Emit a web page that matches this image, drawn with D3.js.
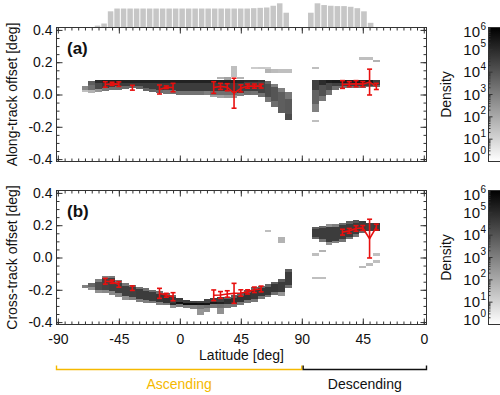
<!DOCTYPE html>
<html>
<head>
<meta charset="utf-8">
<script src="https://cdn.jsdelivr.net/npm/d3@7"></script>
<style>
  body { margin: 0; background: #fff; }
  svg { font-family: "Liberation Sans", Arial, Helvetica, sans-serif; }
</style>
</head>
<body>
<svg id="chart" width="500" height="395"></svg>
<script>
// ---- data ----------------------------------------------------------------
// density cells: [latitude, [[offsetLow, offsetHigh, log10(density)], ...]]
const alongAsc = [
  [-70, [[0.015, 0.03, 1.5], [0.03, 0.055, 2.8]]],
  [-65, [[0.01, 0.03, 1.8], [0.03, 0.06, 3.4], [0.06, 0.085, 3.8]]],
  [-60, [[0.015, 0.035, 2.5], [0.035, 0.07, 4.3], [0.07, 0.087, 5]]],
  [-55, [[0.02, 0.04, 3.2], [0.04, 0.072, 4.6], [0.072, 0.087, 5.2]]],
  [-50, [[0.025, 0.045, 3.4], [0.045, 0.072, 4.6], [0.072, 0.087, 5.2]]],
  [-45, [[0.03, 0.05, 3.4], [0.05, 0.072, 4.6], [0.072, 0.087, 5.2]]],
  [-40, [[0.035, 0.05, 3.5], [0.05, 0.072, 4.6], [0.072, 0.087, 5.2]]],
  [-35, [[0.04, 0.055, 3.6], [0.055, 0.072, 4.6], [0.072, 0.087, 5.2]]],
  [-30, [[0.035, 0.05, 3.6], [0.05, 0.072, 4.6], [0.072, 0.087, 5.2]]],
  [-25, [[0.02, 0.04, 3.6], [0.04, 0.072, 4.6], [0.072, 0.087, 5.2]]],
  [-20, [[0.015, 0.035, 3.6], [0.035, 0.072, 4.6], [0.072, 0.087, 5.2]]],
  [-15, [[0.01, 0.03, 3.5], [0.03, 0.072, 4.6], [0.072, 0.087, 5.2]]],
  [-10, [[0.005, 0.025, 3.3], [0.025, 0.072, 4.6], [0.072, 0.087, 5.2]]],
  [-5, [[0.005, 0.025, 3.3], [0.025, 0.072, 4.6], [0.072, 0.087, 5.2]]],
  [0, [[0.0, 0.02, 3.3], [0.02, 0.072, 4.6], [0.072, 0.087, 5.2]]],
  [5, [[0.0, 0.02, 3.3], [0.02, 0.072, 4.6], [0.072, 0.087, 5.2]]],
  [10, [[0.0, 0.02, 3.3], [0.02, 0.072, 4.6], [0.072, 0.087, 5.2]]],
  [15, [[0.0, 0.02, 3.3], [0.02, 0.072, 4.6], [0.072, 0.087, 5.2]]],
  [20, [[-0.005, 0.02, 3.0], [0.02, 0.072, 4.6], [0.072, 0.087, 5.2]]],
  [25, [[-0.015, 0.0, 2.2], [0.0, 0.02, 3.4], [0.02, 0.072, 4.6], [0.072, 0.087, 5.2]]],
  [30, [[-0.02, 0.0, 2.2], [0.0, 0.02, 3.4], [0.02, 0.072, 4.6], [0.072, 0.087, 5.2], [0.095, 0.11, 1.8]]],
  [35, [[-0.02, 0.0, 2.4], [0.0, 0.02, 3.4], [0.02, 0.072, 4.6], [0.072, 0.087, 5.2], [0.09, 0.11, 2.2]]],
  [40, [[-0.02, 0.0, 2.4], [0.0, 0.02, 3.4], [0.02, 0.072, 4.6], [0.072, 0.087, 5.2], [0.11, 0.175, 1.5]]],
  [45, [[-0.01, 0.01, 3.0], [0.01, 0.072, 4.5], [0.072, 0.087, 5.1], [0.095, 0.11, 1.8]]],
  [50, [[0.0, 0.02, 3.4], [0.02, 0.075, 4.5], [0.075, 0.087, 5]]],
  [55, [[0.0, 0.02, 3.3], [0.02, 0.075, 4.5], [0.075, 0.087, 5], [0.155, 0.17, 1.2]]],
  [60, [[-0.015, 0.01, 3.3], [0.01, 0.075, 4.4], [0.075, 0.087, 4.8], [0.155, 0.172, 1.3]]],
  [65, [[-0.045, -0.015, 3.2], [-0.015, 0.065, 4.2], [0.065, 0.085, 3.6], [0.135, 0.155, 1.8], [0.155, 0.17, 1.2]]],
  [70, [[-0.075, -0.04, 3.4], [-0.04, 0.045, 4.0], [0.045, 0.065, 3.0], [0.135, 0.155, 1.6]]],
  [75, [[-0.115, -0.08, 3.8], [-0.08, 0.015, 3.8], [0.015, 0.04, 3.0], [0.135, 0.155, 1.5]]],
  [80, [[-0.158, -0.12, 4.2], [-0.12, -0.03, 3.9], [-0.03, 0.017, 3.2], [0.135, 0.155, 1.5]]]
];
const alongDesc = [
  [80, [[-0.106, -0.06, 3.0], [-0.06, 0.03, 3.7], [0.03, 0.087, 4.5], [0.155, 0.17, 1.5], [-0.17, -0.155, 1.5]]],
  [75, [[-0.043, -0.01, 3.2], [-0.01, 0.06, 4.1], [0.06, 0.087, 5.0]]],
  [70, [[0.0, 0.025, 3.3], [0.025, 0.07, 4.3], [0.07, 0.087, 5.3]]],
  [65, [[0.03, 0.05, 3.4], [0.05, 0.072, 4.5], [0.072, 0.087, 5.4]]],
  [60, [[0.04, 0.055, 3.3], [0.055, 0.072, 4.5], [0.072, 0.087, 5.4]]],
  [55, [[0.04, 0.055, 3.3], [0.055, 0.072, 4.5], [0.072, 0.087, 5.4]]],
  [50, [[0.04, 0.055, 3.3], [0.055, 0.072, 4.5], [0.072, 0.087, 5.4]]],
  [45, [[0.04, 0.055, 3.3], [0.055, 0.072, 4.5], [0.072, 0.087, 5.4], [0.215, 0.232, 1.5]]],
  [40, [[0.045, 0.055, 3.3], [0.055, 0.072, 4.5], [0.072, 0.087, 5.4], [0.215, 0.232, 1.5]]],
  [35, [[0.045, 0.06, 3.5], [0.06, 0.087, 4.6], [0.2, 0.212, 1.8]]]
];
const crossAsc = [
  [-70, [[-0.19, -0.17, 3.0]]],
  [-65, [[-0.2, -0.18, 2.6], [-0.18, -0.155, 3.6]]],
  [-60, [[-0.218, -0.2, 2.6], [-0.2, -0.15, 4.2], [-0.15, -0.135, 3.0]]],
  [-55, [[-0.222, -0.2, 2.8], [-0.2, -0.13, 4.4], [-0.13, -0.114, 3.0]]],
  [-50, [[-0.232, -0.21, 2.8], [-0.21, -0.13, 4.5], [-0.13, -0.114, 3.2]]],
  [-45, [[-0.243, -0.22, 2.8], [-0.22, -0.155, 4.5], [-0.155, -0.14, 3.2]]],
  [-40, [[-0.263, -0.24, 2.6], [-0.24, -0.175, 4.5], [-0.175, -0.16, 3.2]]],
  [-35, [[-0.263, -0.245, 3.0], [-0.245, -0.185, 4.5], [-0.185, -0.17, 3.3]]],
  [-30, [[-0.274, -0.255, 3.0], [-0.255, -0.195, 4.6], [-0.195, -0.181, 3.3]]],
  [-25, [[-0.284, -0.265, 3.0], [-0.265, -0.205, 4.6], [-0.205, -0.19, 3.4]]],
  [-20, [[-0.284, -0.27, 3.2], [-0.27, -0.215, 4.6], [-0.215, -0.2, 3.4]]],
  [-15, [[-0.295, -0.275, 3.0], [-0.275, -0.225, 4.7], [-0.225, -0.21, 3.4]]],
  [-10, [[-0.295, -0.28, 3.2], [-0.28, -0.235, 4.8], [-0.235, -0.222, 3.5]]],
  [-5, [[-0.315, -0.295, 2.6], [-0.295, -0.28, 5.0], [-0.28, -0.245, 4.6], [-0.245, -0.232, 3.5]]],
  [0, [[-0.304, -0.29, 3.2], [-0.29, -0.278, 5.6], [-0.278, -0.253, 4.6]]],
  [5, [[-0.315, -0.292, 3.0], [-0.292, -0.28, 5.7], [-0.28, -0.263, 4.6]]],
  [10, [[-0.32, -0.295, 3.0], [-0.295, -0.282, 5.7], [-0.282, -0.268, 4.5]]],
  [15, [[-0.356, -0.32, 2.5], [-0.32, -0.295, 3.2], [-0.295, -0.282, 5.6], [-0.282, -0.268, 4.4]]],
  [20, [[-0.34, -0.31, 2.6], [-0.31, -0.293, 3.4], [-0.293, -0.28, 5.5], [-0.28, -0.26, 4.4]]],
  [25, [[-0.315, -0.29, 3.2], [-0.29, -0.278, 5.4], [-0.278, -0.253, 4.5]]],
  [30, [[-0.35, -0.31, 2.6], [-0.31, -0.288, 3.4], [-0.288, -0.275, 5.2], [-0.275, -0.247, 4.5]]],
  [35, [[-0.315, -0.29, 3.2], [-0.29, -0.26, 4.9], [-0.26, -0.243, 3.8]]],
  [40, [[-0.304, -0.285, 3.2], [-0.285, -0.25, 4.8], [-0.25, -0.232, 3.8]]],
  [45, [[-0.295, -0.275, 3.2], [-0.275, -0.24, 4.8], [-0.24, -0.222, 3.8]]],
  [50, [[-0.284, -0.265, 3.2], [-0.265, -0.22, 4.8], [-0.22, -0.201, 3.8]]],
  [55, [[-0.274, -0.255, 3.2], [-0.255, -0.2, 4.7], [-0.2, -0.185, 3.6]]],
  [60, [[-0.26, -0.24, 3.2], [-0.24, -0.19, 4.7], [-0.19, -0.175, 3.6]]],
  [65, [[-0.247, -0.23, 3.2], [-0.23, -0.18, 4.7], [-0.18, -0.164, 3.6], [0.156, 0.17, 1.5]]],
  [70, [[-0.232, -0.215, 3.4], [-0.215, -0.165, 4.7], [-0.165, -0.15, 3.8]]],
  [75, [[-0.24, -0.215, 2.5], [-0.215, -0.15, 4.6], [-0.15, -0.135, 3.8], [0.092, 0.129, 1.8]]],
  [80, [[-0.19, -0.17, 3.4], [-0.17, -0.09, 4.6], [-0.09, -0.073, 3.8]]]
];
const crossDesc = [
  [80, [[0.112, 0.13, 3.6], [0.13, 0.175, 4.6], [0.175, 0.187, 3.8], [0.011, 0.026, 1.5], [-0.134, -0.119, 1.5]]],
  [75, [[0.098, 0.115, 3.2], [0.115, 0.18, 4.6], [0.18, 0.195, 3.6], [0.031, 0.046, 1.8], [-0.134, -0.119, 1.5]]],
  [70, [[0.077, 0.098, 2.6], [0.098, 0.19, 4.6], [0.19, 0.207, 2.6]]],
  [65, [[0.088, 0.105, 3.0], [0.105, 0.19, 4.6], [0.19, 0.207, 3.0]]],
  [60, [[0.098, 0.115, 3.3], [0.115, 0.2, 4.6], [0.2, 0.215, 3.5]]],
  [55, [[0.112, 0.13, 3.3], [0.13, 0.21, 4.6], [0.21, 0.227, 3.8]]],
  [50, [[0.129, 0.145, 3.3], [0.145, 0.215, 4.6], [0.215, 0.232, 4.0]]],
  [45, [[0.15, 0.165, 3.5], [0.165, 0.227, 4.6], [-0.066, -0.052, 1.6]]],
  [40, [[0.166, 0.215, 4.5], [-0.05, -0.036, 1.6]]],
  [35, [[0.166, 0.211, 4.6], [0.011, 0.026, 1.5], [-0.032, -0.016, 1.5]]]
];

// red means with error bars: groups of [latitude, mean, std]
const alongAscMean = [
  [[-55, 0.062, 0.017], [-50, 0.066, 0.01], [-45, 0.064, 0.014]],
  [[-35, 0.042, 0.015]],
  [[-15, 0.031, 0.028], [-10, 0.045, 0.008], [-5, 0.043, 0.026]],
  [[25, 0.043, 0.036], [30, 0.05, 0.019], [35, 0.045, 0.022], [40, 0.008, 0.093],
   [45, 0.038, 0.022], [50, 0.052, 0.013], [55, 0.052, 0.013], [60, 0.052, 0.012]]
];
const alongDescMean = [
  [[60, 0.062, 0.024], [55, 0.064, 0.016], [50, 0.067, 0.019], [45, 0.064, 0.016], [40, 0.077, 0.08], [35, 0.05, 0.019]]
];
const crossAscMean = [
  [[-55, -0.147, 0.018], [-50, -0.15, 0.01], [-45, -0.167, 0.017]],
  [[-35, -0.19, 0.014]],
  [[-15, -0.222, 0.031], [-10, -0.234, 0.012], [-5, -0.243, 0.025]],
  [[25, -0.234, 0.033], [30, -0.232, 0.021], [35, -0.226, 0.02], [40, -0.222, 0.062],
   [45, -0.22, 0.02], [50, -0.213, 0.013], [55, -0.2, 0.017], [60, -0.195, 0.018]]
];
const crossDescMean = [
  [[60, 0.157, 0.018], [55, 0.165, 0.015], [50, 0.18, 0.017], [45, 0.183, 0.015], [40, 0.117, 0.12], [35, 0.188, 0.018]]
];

// profile counts above panel (a)
const histAscStart = -63.1, histAscWidth = 4.8;
const histAscCounts = [4, 10, 45, 53, 53, 53, 53, 53, 53, 53, 53, 53, 53, 53, 53, 53, 53, 53, 53, 53, 53, 53, 53, 53, 54, 55, 56, 61, 68, 41];
const histDescStart = 85.8, histDescWidth = 4.9;
const histDescCounts = [41, 68, 63, 61, 60, 60, 58, 54, 45, 12];

const xTicks = [-90, -45, 0, 45, 90, 135, 180];
const yTicks = [-0.4, -0.2, 0.0, 0.2, 0.4];
const densityExp = [0, 1, 2, 3, 4, 5, 6];
const passes = [
  { name: "Ascending", from: -91, to: 90, color: "#f5b900" },
  { name: "Descending", from: 91, to: 182, color: "#111" }
];

// ---- layout ---------------------------------------------------------------
const svg = d3.select("#chart");
const x = d3.scaleLinear().domain([-91, 182]).range([56.5, 426.5]);
const cellHalf = 2.5;
const gray = d3.scaleLinear().domain([0, 6]).range(["#ffffff", "#000000"]);
const red = "#e8100f";
const axisColor = "#333";

const toU = (lat, side) => side === "asc" ? lat : 180 - lat;

const panels = [
  { top: 27.5, bottom: 161.5, asc: alongAsc, desc: alongDesc, ascMean: alongAscMean, descMean: alongDescMean,
    title: "Along-track offset [deg]", tag: "(a)", labels: false },
  { top: 190.5, bottom: 324.5, asc: crossAsc, desc: crossDesc, ascMean: crossAscMean, descMean: crossDescMean,
    title: "Cross-track offset [deg]", tag: "(b)", labels: true }
];

// histogram
const hy = d3.scaleLinear().domain([0, 77.5]).range([27, 0]);
const histBars = [];
histAscCounts.forEach((c, i) => histBars.push({ u0: histAscStart + i * histAscWidth, u1: histAscStart + (i + 1) * histAscWidth, c }));
histDescCounts.forEach((c, i) => histBars.push({ u0: 180 - (histDescStart - i * histDescWidth), u1: 180 - (histDescStart - (i + 1) * histDescWidth), c }));
svg.append("g").selectAll("rect").data(histBars).join("rect")
  .attr("x", d => x(d.u0) + 0.5)
  .attr("width", d => x(d.u1) - x(d.u0) - 1)
  .attr("y", d => hy(d.c))
  .attr("height", d => hy(0) - hy(d.c))
  .attr("fill", "#c6c6c6");

panels.forEach((p, pi) => {
  const y = d3.scaleLinear().domain([-0.415, 0.415]).range([p.bottom, p.top]);
  const g = svg.append("g");

  const cells = [];
  [["asc", p.asc], ["desc", p.desc]].forEach(([side, cols]) => {
    cols.forEach(([lat, segs]) => segs.forEach(s => cells.push({ u: toU(lat, side), v0: s[0], v1: s[1], lvl: s[2] })));
  });
  g.append("g").selectAll("rect").data(cells).join("rect")
    .attr("x", d => x(d.u - cellHalf))
    .attr("width", d => x(d.u + cellHalf) - x(d.u - cellHalf))
    .attr("y", d => y(d.v1))
    .attr("height", d => y(d.v0) - y(d.v1))
    .attr("fill", d => gray(d.lvl))
    .attr("shape-rendering", "crispEdges");

  // means and error bars
  const groups = [];
  p.ascMean.forEach(gr => groups.push(gr.map(([lat, m, e]) => ({ u: toU(lat, "asc"), m, e }))));
  p.descMean.forEach(gr => groups.push(gr.map(([lat, m, e]) => ({ u: toU(lat, "desc"), m, e }))));
  const line = d3.line().x(d => x(d.u)).y(d => y(d.m));
  const rg = g.append("g").attr("stroke", red).attr("stroke-width", 1.6).attr("fill", "none");
  rg.selectAll("path").data(groups).join("path").attr("d", line);
  const pts = groups.flat();
  rg.selectAll("line.eb").data(pts).join("line").attr("class", "eb")
    .attr("x1", d => x(d.u)).attr("x2", d => x(d.u))
    .attr("y1", d => y(d.m - d.e)).attr("y2", d => y(d.m + d.e));
  rg.selectAll("line.capT").data(pts).join("line").attr("class", "capT")
    .attr("x1", d => x(d.u) - 2.5).attr("x2", d => x(d.u) + 2.5)
    .attr("y1", d => y(d.m + d.e)).attr("y2", d => y(d.m + d.e));
  rg.selectAll("line.capB").data(pts).join("line").attr("class", "capB")
    .attr("x1", d => x(d.u) - 2.5).attr("x2", d => x(d.u) + 2.5)
    .attr("y1", d => y(d.m - d.e)).attr("y2", d => y(d.m - d.e));

  // axes
  const minorY = d3.range(-0.4, 0.401, 0.05);
  const minorX = d3.range(-90, 181, 5);
  const style = sel => {
    sel.select(".domain").remove();
    sel.selectAll("line").attr("stroke", axisColor);
    sel.selectAll("text").attr("fill", "#111").style("font-size", "14px").style("font-family", null);
  };
  g.append("g").attr("transform", `translate(${x.range()[0]},0)`)
    .call(d3.axisLeft(y).tickValues(yTicks).tickSize(-6).tickPadding(4).tickFormat(d => d.toFixed(1))).call(style);
  g.append("g").attr("transform", `translate(${x.range()[0]},0)`)
    .call(d3.axisLeft(y).tickValues(minorY).tickSize(-3).tickFormat("")).call(style);
  g.append("g").attr("transform", `translate(${x.range()[1]},0)`)
    .call(d3.axisRight(y).tickValues(yTicks).tickSize(-6).tickFormat("")).call(style);
  g.append("g").attr("transform", `translate(${x.range()[1]},0)`)
    .call(d3.axisRight(y).tickValues(minorY).tickSize(-3).tickFormat("")).call(style);
  g.append("g").attr("transform", `translate(0,${p.top})`)
    .call(d3.axisTop(x).tickValues(xTicks).tickSize(-6).tickFormat("")).call(style);
  g.append("g").attr("transform", `translate(0,${p.top})`)
    .call(d3.axisTop(x).tickValues(minorX).tickSize(-3).tickFormat("")).call(style);
  g.append("g").attr("transform", `translate(0,${p.bottom})`)
    .call(d3.axisBottom(x).tickValues(xTicks).tickSize(-6).tickPadding(10)
      .tickFormat(d => p.labels ? String(d <= 90 ? d : 180 - d) : "")).call(style);
  g.append("g").attr("transform", `translate(0,${p.bottom})`)
    .call(d3.axisBottom(x).tickValues(minorX).tickSize(-3).tickFormat("")).call(style);

  g.append("rect")
    .attr("x", x.range()[0]).attr("y", p.top)
    .attr("width", x.range()[1] - x.range()[0]).attr("height", p.bottom - p.top)
    .attr("fill", "none").attr("stroke", axisColor);

  g.append("text").attr("x", 67).attr("y", p.top + 26)
    .style("font-size", "17px").style("font-weight", "bold").attr("fill", "#111").text(p.tag);

  g.append("text")
    .attr("transform", `translate(17,${(p.top + p.bottom) / 2}) rotate(-90)`)
    .attr("text-anchor", "middle").style("font-size", "14px").attr("fill", "#111").text(p.title);

  // colour bar
  const cb = d3.scaleLinear().domain([0, 6]).range([p.bottom, p.top]);
  const gradId = "grad" + pi;
  const grad = svg.append("defs").append("linearGradient").attr("id", gradId)
    .attr("x1", 0).attr("y1", 1).attr("x2", 0).attr("y2", 0);
  grad.append("stop").attr("offset", "0%").attr("stop-color", gray(0));
  grad.append("stop").attr("offset", "100%").attr("stop-color", gray(6));
  const cbx = 488.5;
  g.append("rect").attr("x", cbx).attr("y", p.top).attr("width", 14).attr("height", p.bottom - p.top)
    .attr("fill", `url(#${gradId})`).attr("stroke", axisColor);
  const logTicks = d3.scaleLog().domain([1, 1e6]).ticks().map(v => Math.log10(v));
  g.append("g").selectAll("line").data(logTicks).join("line")
    .attr("x1", cbx).attr("x2", d => cbx + (Number.isInteger(d) ? 4 : 2))
    .attr("y1", d => cb(d)).attr("y2", d => cb(d))
    .attr("stroke", axisColor);
  const lab = g.append("g").selectAll("g").data(densityExp).join("g")
    .attr("transform", d => `translate(0,${Math.min(Math.max(cb(d), p.top + 4.5), p.bottom - 5)})`);
  lab.append("text").attr("x", 480).attr("y", 5).attr("text-anchor", "end")
    .style("font-size", "15px").attr("fill", "#111").text("10");
  lab.append("text").attr("x", 480.5).attr("y", -2.5)
    .style("font-size", "10px").attr("fill", "#111").text(d => d);
  g.append("text")
    .attr("transform", `translate(451,${(p.top + p.bottom) / 2}) rotate(-90)`)
    .attr("text-anchor", "middle").style("font-size", "14px").attr("fill", "#111").text("Density");
});

svg.append("text").attr("x", (x.range()[0] + x.range()[1]) / 2).attr("y", 360)
  .attr("text-anchor", "middle").style("font-size", "14px").attr("fill", "#111").text("Latitude [deg]");

// ascending / descending brackets
const br = svg.append("g").selectAll("g").data(passes).join("g");
br.append("path")
  .attr("d", d => `M${x(d.from)},365.5V369.5H${x(d.to)}V365.5`)
  .attr("fill", "none").attr("stroke", d => d.color).attr("stroke-width", 1.4);
br.append("text")
  .attr("x", d => (x(d.from) + x(d.to)) / 2).attr("y", 389)
  .attr("text-anchor", "middle").style("font-size", "14px")
  .attr("fill", d => d.color).text(d => d.name);
</script>
</body>
</html>
